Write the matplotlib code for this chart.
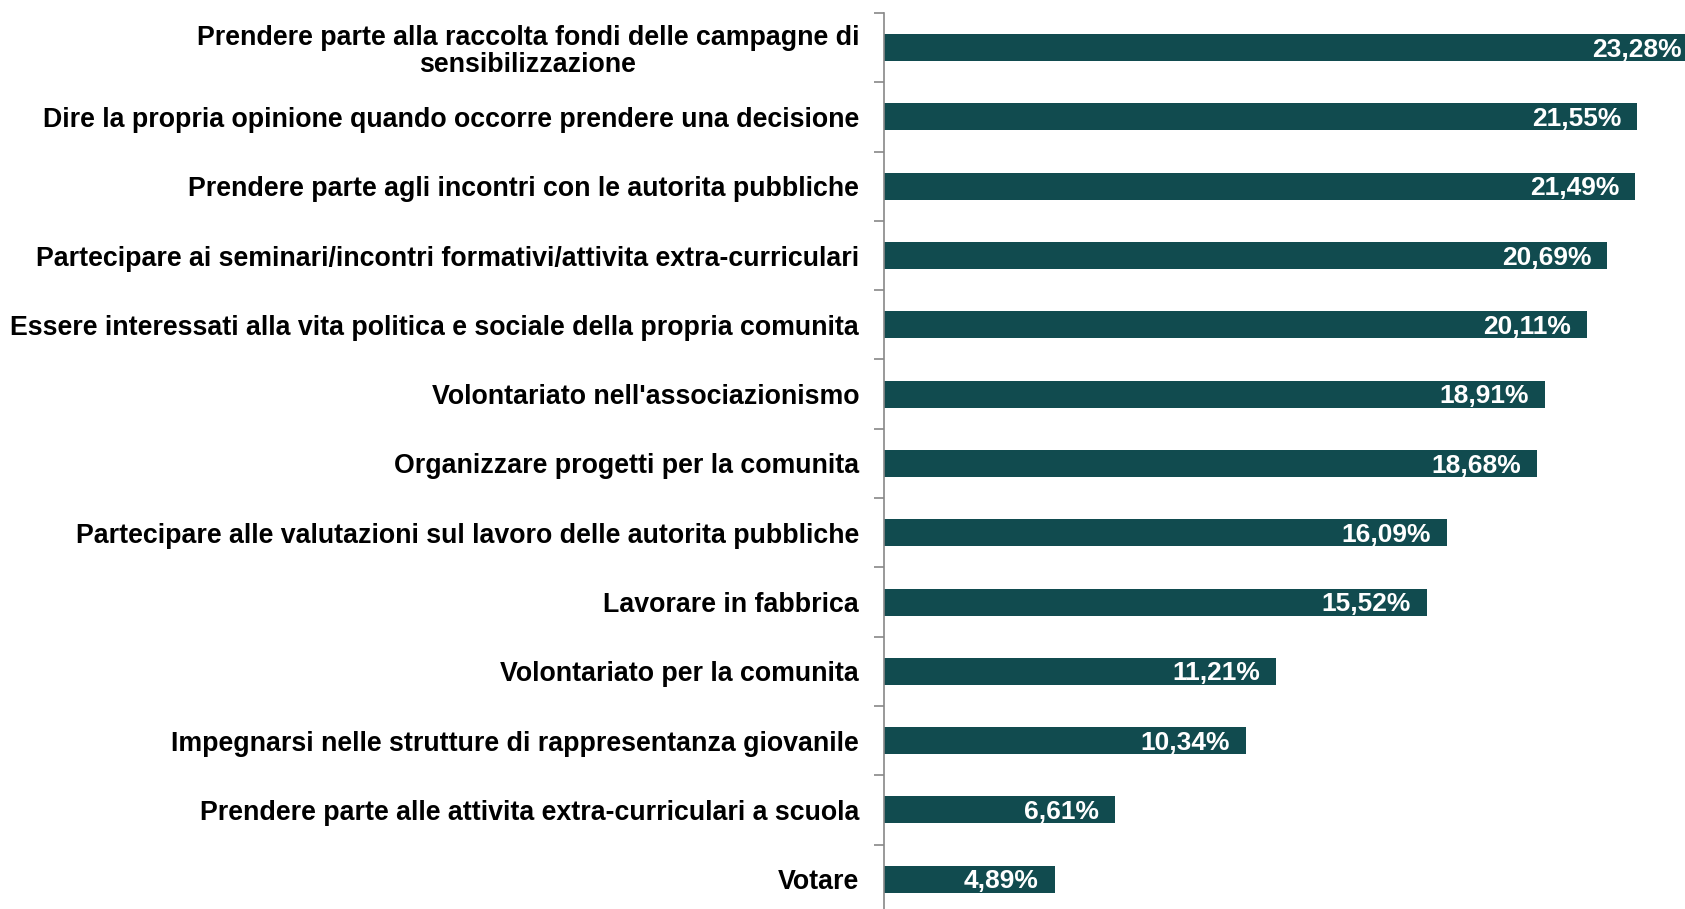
import matplotlib.pyplot as plt
import numpy as np

plt.rcParams['font.family'] = ['Liberation Sans', 'DejaVu Sans']

categories = [
    "Prendere parte alla raccolta fondi delle campagne di\nsensibilizzazione",
    "Dire la propria opinione quando occorre prendere una decisione",
    "Prendere parte agli incontri con le autorita pubbliche",
    "Partecipare ai seminari/incontri formativi/attivita extra-curriculari",
    "Essere interessati alla vita politica e sociale della propria comunita",
    "Volontariato nell'associazionismo",
    "Organizzare progetti per la comunita",
    "Partecipare alle valutazioni sul lavoro delle autorita pubbliche",
    "Lavorare in fabbrica",
    "Volontariato per la comunita",
    "Impegnarsi nelle strutture di rappresentanza giovanile",
    "Prendere parte alle attivita extra-curriculari a scuola",
    "Votare",
]
values = [23.28, 21.55, 21.49, 20.69, 20.11, 18.91, 18.68, 16.09, 15.52, 11.21, 10.34, 6.61, 4.89]
labels = [f"{v:.2f}%".replace('.', ',') for v in values]

W, H = 1685, 909
fig = plt.figure(figsize=(W / 100, H / 100), dpi=100)
ax = fig.add_axes([884 / W, 0, 1 - 884 / W, 1 - 13 / H])

xmax = 22.91  # the longest bar runs past the right edge of the picture
y = np.arange(len(values))
bars = ax.barh(y, values, height=0.39, color='#114b4f')
for b, lab in zip(bars, labels):
    xe = min(b.get_width() - 0.46, xmax - 0.1)
    ax.text(xe, b.get_y() + b.get_height() / 2 + 0.03, lab,
            ha='right', va='center', color='white', fontsize=19, fontweight='bold')

ax.set_xlim(0, xmax)
ax.set_ylim(12.43, -0.5)

ax.set_yticks(y)
ax.set_yticklabels(categories, fontsize=19.3, fontweight='bold', linespacing=1.05)
for t in ax.get_yticklabels():
    t.set_multialignment('center')
ax.tick_params(axis='y', which='major', length=0, pad=18)
ax.set_yticks(np.arange(-0.5, 12.5, 1), minor=True)
ax.tick_params(axis='y', which='minor', length=7, color='#888888', width=1.2)

ax.set_xticks([])
for s in ['top', 'right', 'bottom']:
    ax.spines[s].set_visible(False)
ax.spines['left'].set_color('#888888')
ax.spines['left'].set_linewidth(1.2)

fig.savefig('out.png', dpi=100)
